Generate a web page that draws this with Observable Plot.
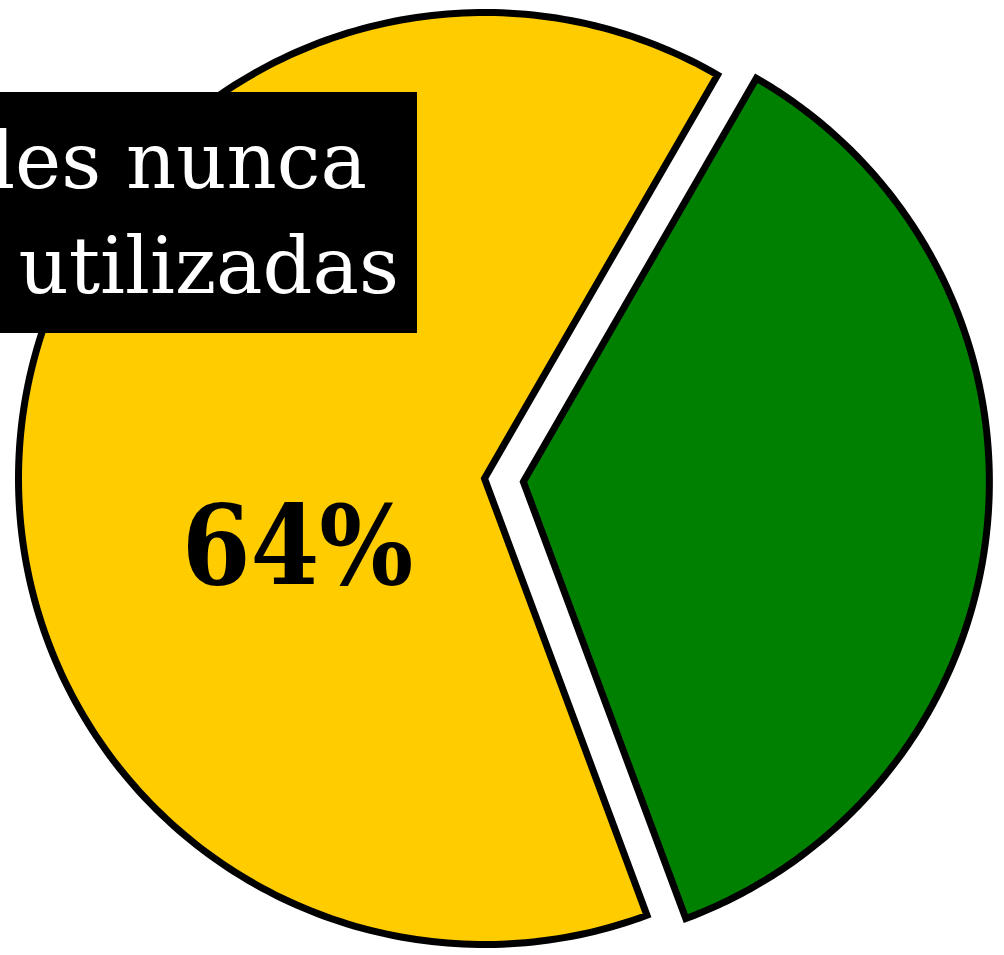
<!DOCTYPE html>
<html>
<head>
<meta charset="utf-8">
<script src="https://cdn.jsdelivr.net/npm/d3@7"></script>
<script src="https://cdn.jsdelivr.net/npm/@observablehq/plot@0.6"></script>
<style>
  html, body { margin: 0; padding: 0; background: #fff; }
  #wrap { position: relative; width: 1004px; height: 955px; overflow: hidden; }
  #box { position: absolute; left: 0; top: 92px; width: 417px; height: 241px; background: #000; overflow: hidden; }
  #box div { position: absolute; right: 0; white-space: nowrap; color: #fff;
             font-family: "DejaVu Serif", serif; font-size: 78px; line-height: 78px; text-align: right; }
</style>
</head>
<body>
<div id="wrap"></div>
<script>
// ---- data ----
const categories = ["Nunca utilizadas", "Utilizadas"];
const values = [64, 36];
const colors = ["#ffcc00", "#008000"];
const explode = [0, 39];
const labelLines = ["les nunca", "utilizadas"];

// ---- geometry derived from data ----
const R = 466;
const start = 159.6 * Math.PI / 180;
const arcs = d3.pie().sort(null).value(d => d).startAngle(start).endAngle(start + 2 * Math.PI)(values);

const slices = arcs.map((a, i) => {
  const mid = (a.startAngle + a.endAngle) / 2;
  const ox = explode[i] * Math.sin(mid), oy = explode[i] * Math.cos(mid);
  const pts = [{x: ox, y: oy}];
  const N = 240;
  for (let k = 0; k <= N; k++) {
    const t = a.startAngle + (a.endAngle - a.startAngle) * k / N;
    pts.push({x: ox + R * Math.sin(t), y: oy + R * Math.cos(t)});
  }
  pts.push({x: ox, y: oy});
  pts.push(pts[1]);
  return {category: categories[i], color: colors[i], pts};
});

const chart = Plot.plot({
  width: 1004,
  height: 955,
  margin: 0,
  x: {domain: [-484, 520], axis: null},
  y: {domain: [-477, 478], axis: null},
  marks: [
    ...slices.map(s => Plot.line(s.pts, {
      x: "x", y: "y", fill: s.color, stroke: "black", strokeWidth: 7,
      strokeLinejoin: "miter", strokeMiterlimit: 10, curve: "linear"
    })),
    Plot.text([{x: 0, y: 0, label: values[0] + "%"}], {
      x: "x", y: "y", text: "label", dx: -187, dy: 70,
      fontSize: 110, fontWeight: "bold", fill: "black",
      fontFamily: "'DejaVu Serif Condensed', 'DejaVu Serif', serif",
      textAnchor: "middle", lineAnchor: "middle"
    })
  ]
});

const wrap = document.getElementById("wrap");
chart.style.position = "absolute";
chart.style.left = "0";
chart.style.top = "0";
wrap.appendChild(chart);

const box = document.createElement("div");
box.id = "box";
const l1 = document.createElement("div");
l1.textContent = labelLines[0];
l1.style.top = "30px";
l1.style.paddingRight = "50px";
const l2 = document.createElement("div");
l2.textContent = labelLines[1];
l2.style.top = "135px";
l2.style.paddingRight = "18px";
box.appendChild(l1);
box.appendChild(l2);
wrap.appendChild(box);
</script>
</body>
</html>
